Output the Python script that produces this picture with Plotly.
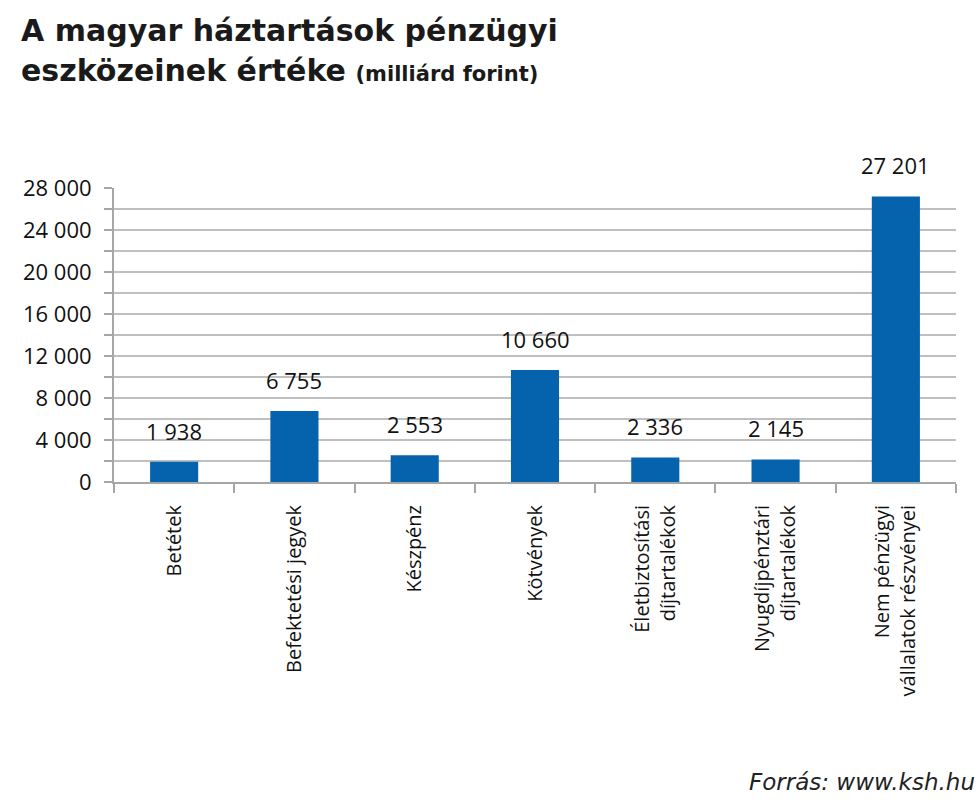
import plotly.graph_objects as go

categories = [
    "Betétek",
    "Befektetési jegyek",
    "Készpénz",
    "Kötvények",
    "Életbiztosítási<br>díjtartalékok",
    "Nyugdíjpénztári<br>díjtartalékok",
    "Nem pénzügyi<br>vállalatok részvényei",
]
values = [1938, 6755, 2553, 10660, 2336, 2145, 27201]
y_tick_values = [0, 4000, 8000, 12000, 16000, 20000, 24000, 28000]
y_tick_labels = ["0", "4 000", "8 000", "12 000", "16 000", "20 000", "24 000", "28 000"]
value_labels = ["1 938", "6 755", "2 553", "10 660", "2 336", "2 145", "27 201"]

W, H = 980, 803
ML, MR, MT, MB = 114, 24, 188, 321
PW, PH = W - ML - MR, H - MT - MB


def px_x(x):
    return (x - ML) / PW


def px_y(y):
    return (H - MB - y) / PH


BLUE = "#0563AD"
TEXT_FONT = "Open Sans"
TITLE_FONT = "DejaVu Sans"

fig = go.Figure()
fig.add_trace(go.Bar(
    x=categories, y=values, marker=dict(color=BLUE, line=dict(width=0)),
    width=0.4, hoverinfo="skip",
))

for c, v, t in zip(categories, values, value_labels):
    fig.add_annotation(x=c, y=v, text=t, showarrow=False, yanchor="middle",
                       yshift=31, font=dict(family=TEXT_FONT, size=22, color="#111"))

fig.add_annotation(xref="paper", yref="paper", x=px_x(19), y=px_y(30), xanchor="left", yanchor="middle",
                   text="<b>A magyar háztartások pénzügyi</b>", showarrow=False,
                   font=dict(family=TITLE_FONT, size=30, color="#1a1a1a"))
fig.add_annotation(xref="paper", yref="paper", x=px_x(19), y=px_y(71), xanchor="left", yanchor="middle",
                   text="<b>eszközeinek értéke</b> <span style='font-size:21px'><b>(milliárd forint)</b></span>",
                   showarrow=False, font=dict(family=TITLE_FONT, size=30, color="#1a1a1a"))
fig.add_annotation(xref="paper", yref="paper", x=px_x(977), y=px_y(782), xanchor="right", yanchor="middle",
                   text="<i>Forrás: www.ksh.hu</i>", showarrow=False,
                   font=dict(family=TITLE_FONT, size=23, color="#222"))

fig.update_layout(
    width=W, height=H, margin=dict(l=ML, r=MR, t=MT, b=MB, autoexpand=False),
    paper_bgcolor="white", plot_bgcolor="white", showlegend=False,
    bargap=0.6,
)
fig.update_xaxes(
    type="category", tickson="boundaries", ticks="outside", ticklen=9, tickcolor="#a6a6a6",
    tickwidth=2, showline=True, linecolor="#a6a6a6", linewidth=2, tickangle=-90,
    tickfont=dict(family=TEXT_FONT, size=20, color="#111"), ticklabelstandoff=13,
    showgrid=False, fixedrange=True,
)
fig.update_yaxes(
    range=[0, 28000], tickvals=y_tick_values, ticktext=y_tick_labels,
    ticks="outside", ticklen=8, tickcolor="#a6a6a6", tickwidth=2,
    showline=True, linecolor="#a6a6a6", linewidth=2,
    showgrid=True, gridcolor="#bfbfbf", gridwidth=1.5,
    minor=dict(dtick=2000, showgrid=True, gridcolor="#bfbfbf", gridwidth=1.5,
               ticks="outside", ticklen=8, tickcolor="#a6a6a6", tickwidth=2),
    zeroline=False, tickfont=dict(family=TEXT_FONT, size=22, color="#111"),
    ticklabelstandoff=8, fixedrange=True,
)

fig.write_html("out.html")
